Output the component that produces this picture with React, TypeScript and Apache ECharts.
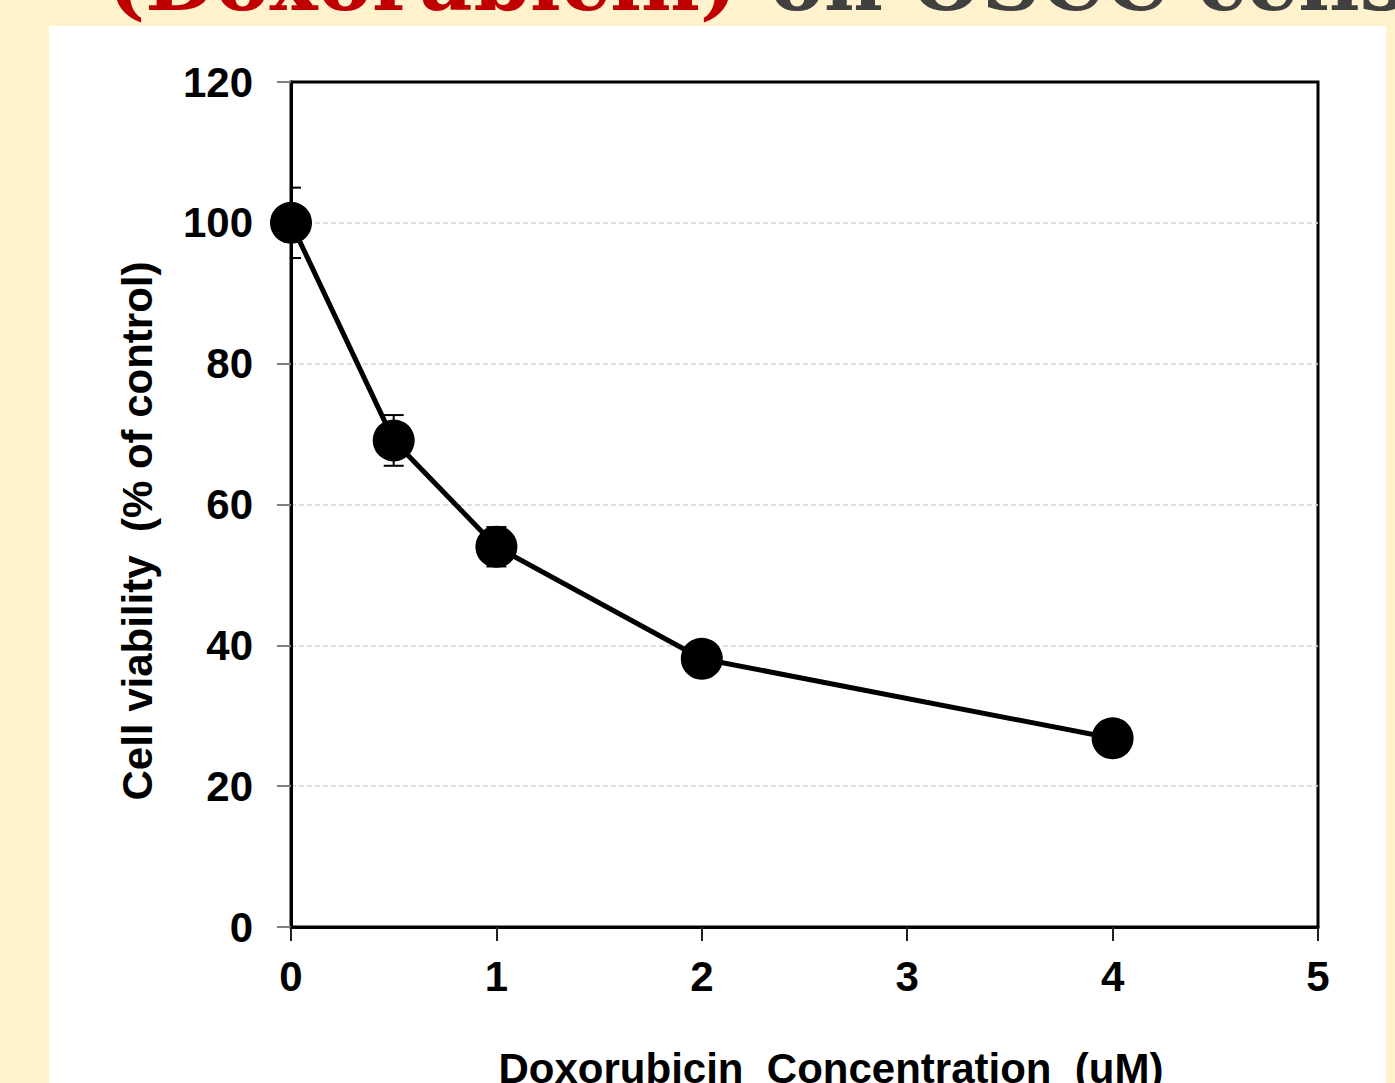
import React, { useEffect, useRef } from "react";
import * as echarts from "echarts";

const concentrations = [0, 0.5, 1, 2, 4];
const viability = [100, 69.1, 54.0, 38.1, 26.8];
const errorBars = [5.0, 3.6, 2.8, 1.5, 1.5];
const xAxisName = "Doxorubicin  Concentration  (uM)";
const yAxisName = "Cell viability  (% of control)";
const titleRed = "(Doxorubicin)";
const titleRest = "on OSCC cells";

const W = 1395;
const H = 1083;

export default function App() {
  const ref = useRef<HTMLDivElement>(null);
  useEffect(() => {
    if (!ref.current) return;
    const chart = echarts.init(ref.current, undefined, { renderer: "svg" });
    const lineData = concentrations.map((c, i) => [c, viability[i]]);
    const errData = concentrations.map((c, i) => [c, viability[i], errorBars[i]]);
    const labelFont = {
      fontFamily: "Liberation Sans",
      fontWeight: "bold" as const,
      fontSize: 42,
      color: "#000",
    };
    chart.setOption({
      animation: false,
      backgroundColor: "transparent",
      grid: {
        left: 291,
        top: 82,
        right: W - 1318,
        bottom: H - 927,
        show: true,
        borderColor: "#000",
        borderWidth: 3,
        backgroundColor: "transparent",
      },
      xAxis: {
        type: "value",
        min: 0,
        max: 5,
        interval: 1,
        axisLine: { show: true, onZero: false, lineStyle: { color: "#000", width: 3 } },
        axisTick: { show: true, length: 14, lineStyle: { color: "#222", width: 2 } },
        axisLabel: { ...labelFont, margin: 28 },
        splitLine: { show: false },
      },
      yAxis: {
        type: "value",
        min: 0,
        max: 120,
        interval: 20,
        axisLine: { show: true, onZero: false, lineStyle: { color: "#000", width: 3 } },
        axisTick: { show: true, length: 14, lineStyle: { color: "#808080", width: 2 } },
        axisLabel: { ...labelFont, margin: 38 },
        splitLine: {
          show: true,
          showMinLine: false,
          showMaxLine: false,
          lineStyle: { color: "#d4d4d4", width: 1.5, type: [5, 3] },
        },
      },
      graphic: [
        {
          type: "text",
          x: 107,
          y: -19,
          style: {
            text: titleRed,
            fill: "#C00000",
            font: "bold 81px 'DejaVu Serif'",
            align: "left",
            verticalAlign: "middle",
          },
        },
        {
          type: "text",
          x: 770,
          y: -19,
          style: {
            text: titleRest,
            fill: "#404040",
            font: "bold 81px 'DejaVu Serif'",
            align: "left",
            verticalAlign: "middle",
          },
        },
        {
          type: "text",
          x: 831,
          y: 1068,
          style: {
            text: xAxisName,
            fill: "#000",
            font: "bold 42px 'Liberation Sans'",
            align: "center",
            verticalAlign: "middle",
          },
        },
        {
          type: "text",
          x: 137,
          y: 531,
          rotation: Math.PI / 2,
          style: {
            text: yAxisName,
            fill: "#000",
            font: "bold 42px 'Liberation Sans'",
            align: "center",
            verticalAlign: "middle",
          },
        },
      ],
      series: [
        {
          type: "custom",
          clip: true,
          z: 1,
          data: errData,
          renderItem: (params: any, api: any) => {
            const x = api.value(0);
            const y = api.value(1);
            const e = api.value(2);
            const top = api.coord([x, y + e]);
            const bot = api.coord([x, y - e]);
            const cap = 10;
            const style = { stroke: "#000", lineWidth: 2 };
            return {
              type: "group",
              children: [
                { type: "line", shape: { x1: top[0], y1: top[1], x2: bot[0], y2: bot[1] }, style },
                { type: "line", shape: { x1: top[0] - cap, y1: top[1], x2: top[0] + cap, y2: top[1] }, style },
                { type: "line", shape: { x1: bot[0] - cap, y1: bot[1], x2: bot[0] + cap, y2: bot[1] }, style },
              ],
            };
          },
        },
        {
          type: "line",
          z: 3,
          data: lineData,
          symbol: "circle",
          symbolSize: 42,
          showSymbol: true,
          lineStyle: { color: "#000", width: 5 },
          itemStyle: { color: "#000" },
        },
      ],
    });
    return () => chart.dispose();
  }, []);

  return (
    <div style={{ position: "absolute", left: 0, top: 0, width: W, height: H, background: "#FFF2CC", overflow: "hidden" }}>
      <div style={{ position: "absolute", left: 49, top: 26, width: 1337, height: H - 26, background: "#FFFFFF" }} />
      <div ref={ref} style={{ position: "absolute", left: 0, top: 0, width: W, height: H }} />
    </div>
  );
}
